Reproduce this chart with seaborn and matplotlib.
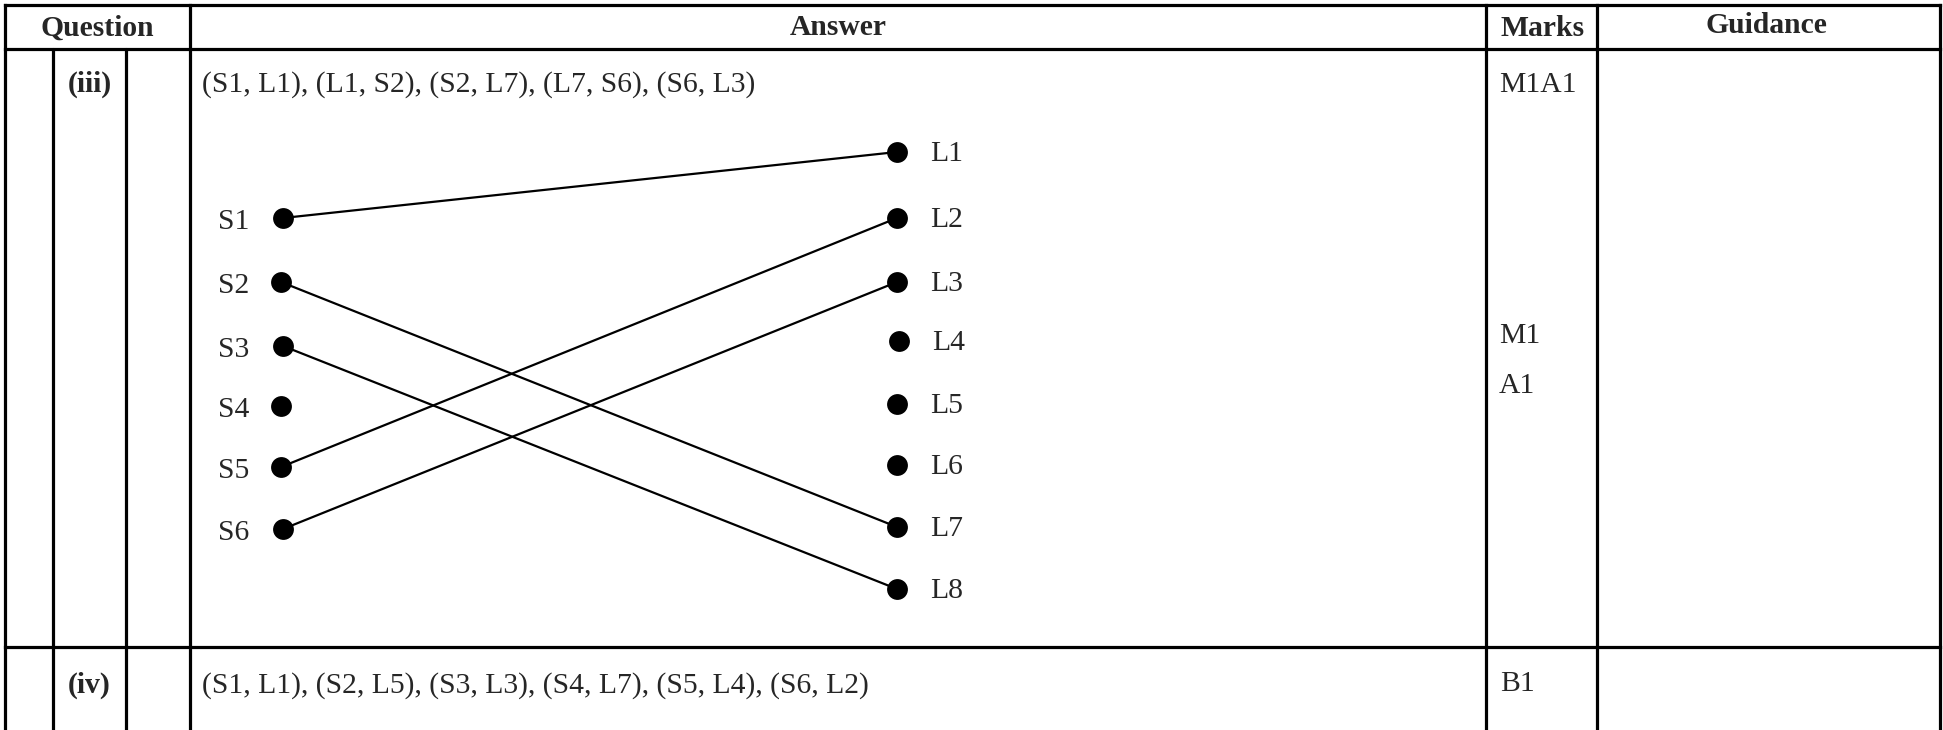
import pandas as pd
import matplotlib
matplotlib.use('Agg')
import matplotlib.pyplot as plt
import seaborn as sns

# graph data: two sides of the bipartite graph
s_labels = ['S1', 'S2', 'S3', 'S4', 'S5', 'S6']
s_x = [283, 281, 283, 281, 281, 283]
s_y = [218, 282, 346, 406, 467, 529]
l_labels = ['L1', 'L2', 'L3', 'L4', 'L5', 'L6', 'L7', 'L8']
l_x = [897, 897, 897, 899, 897, 897, 897, 897]
l_y = [152, 218, 282, 341, 404, 465, 527, 589]
edges = [('S1', 'L1'), ('S2', 'L7'), ('S3', 'L8'), ('S5', 'L2'), ('S6', 'L3')]

headers = ['Question', 'Answer', 'Marks', 'Guidance']
parts = ['(iii)', '(iv)']
answers = ['(S1, L1), (L1, S2), (S2, L7), (L7, S6), (S6, L3)',
           '(S1, L1), (S2, L5), (S3, L3), (S4, L7), (S5, L4), (S6, L2)']
marks_iii = ['M1A1', 'M1', 'A1']
marks_iv = ['B1']

sns.set_style('white')
plt.rcParams['font.family'] = ['Liberation Serif', 'DejaVu Serif']

W, H = 1943, 730
fig = plt.figure(figsize=(W / 100, H / 100), dpi=100)
ax = fig.add_axes([0, 0, 1, 1])

fs = 21.3
lw = 2.3

# table grid
x_left, x_p1, x_p2, x_ans, x_marks, x_guid, x_right = 5, 53, 126, 190, 1486, 1597, 1940
y_top, y_head, y_row = 5, 49, 647
for y in [y_top, y_head, y_row]:
    ax.plot([x_left, x_right], [y, y], color='black', lw=lw, solid_capstyle='projecting')
for x in [x_left, x_ans, x_marks, x_guid, x_right]:
    ax.plot([x, x], [y_top, H], color='black', lw=lw, solid_capstyle='projecting')
for x in [x_p1, x_p2]:
    ax.plot([x, x], [y_head, H], color='black', lw=lw)

# header
head_x = [(x_left + x_ans) / 2, (x_ans + x_marks) / 2, (x_marks + x_guid) / 2 + 1, (x_guid + x_right) / 2 - 2]
head_y = [36, 35, 36, 33]
for t, hx, hy in zip(headers, head_x, head_y):
    ax.text(hx, hy, t, ha='center', va='baseline', fontsize=fs, fontweight='bold')

# rows
ax.text((x_p1 + x_p2) / 2, 92, parts[0], ha='center', va='baseline', fontsize=fs, fontweight='bold')
ax.text((x_p1 + x_p2) / 2, 693, parts[1], ha='center', va='baseline', fontsize=fs, fontweight='bold')
ax.text(202, 92, answers[0], ha='left', va='baseline', fontsize=fs)
ax.text(202, 693, answers[1], ha='left', va='baseline', fontsize=fs)
for t, my in zip(marks_iii, [92, 343, 393]):
    ax.text(1499, my, t, ha='left', va='baseline', fontsize=fs)
ax.text(1500, 691, marks_iv[0], ha='left', va='baseline', fontsize=fs)

# graph
nodes = pd.DataFrame({
    'label': s_labels + l_labels,
    'x': s_x + l_x,
    'y': s_y + l_y,
    'side': ['S'] * len(s_labels) + ['L'] * len(l_labels),
})
pos = nodes.set_index('label')
edge_rows = []
for i, (a, b) in enumerate(edges):
    for n in (a, b):
        edge_rows.append({'edge': i, 'x': pos.loc[n, 'x'], 'y': pos.loc[n, 'y']})
edge_df = pd.DataFrame(edge_rows)

sns.lineplot(data=edge_df, x='x', y='y', units='edge', estimator=None, sort=False,
             color='black', lw=1.6, ax=ax, legend=False, zorder=2)
sns.scatterplot(data=nodes, x='x', y='y', color='black', s=225, edgecolor='black',
                linewidth=0, ax=ax, legend=False, zorder=3)

for _, r in nodes.iterrows():
    if r['side'] == 'S':
        ax.text(218, r['y'] + 11, r['label'], ha='left', va='baseline', fontsize=fs)
    else:
        ax.text(r['x'] + 33, r['y'] + 9, r['label'], ha='left', va='baseline', fontsize=fs)

ax.set_xlim(0, W)
ax.set_ylim(H, 0)
ax.set_xlabel('')
ax.set_ylabel('')
ax.axis('off')

fig.savefig('out.png', dpi=100)
